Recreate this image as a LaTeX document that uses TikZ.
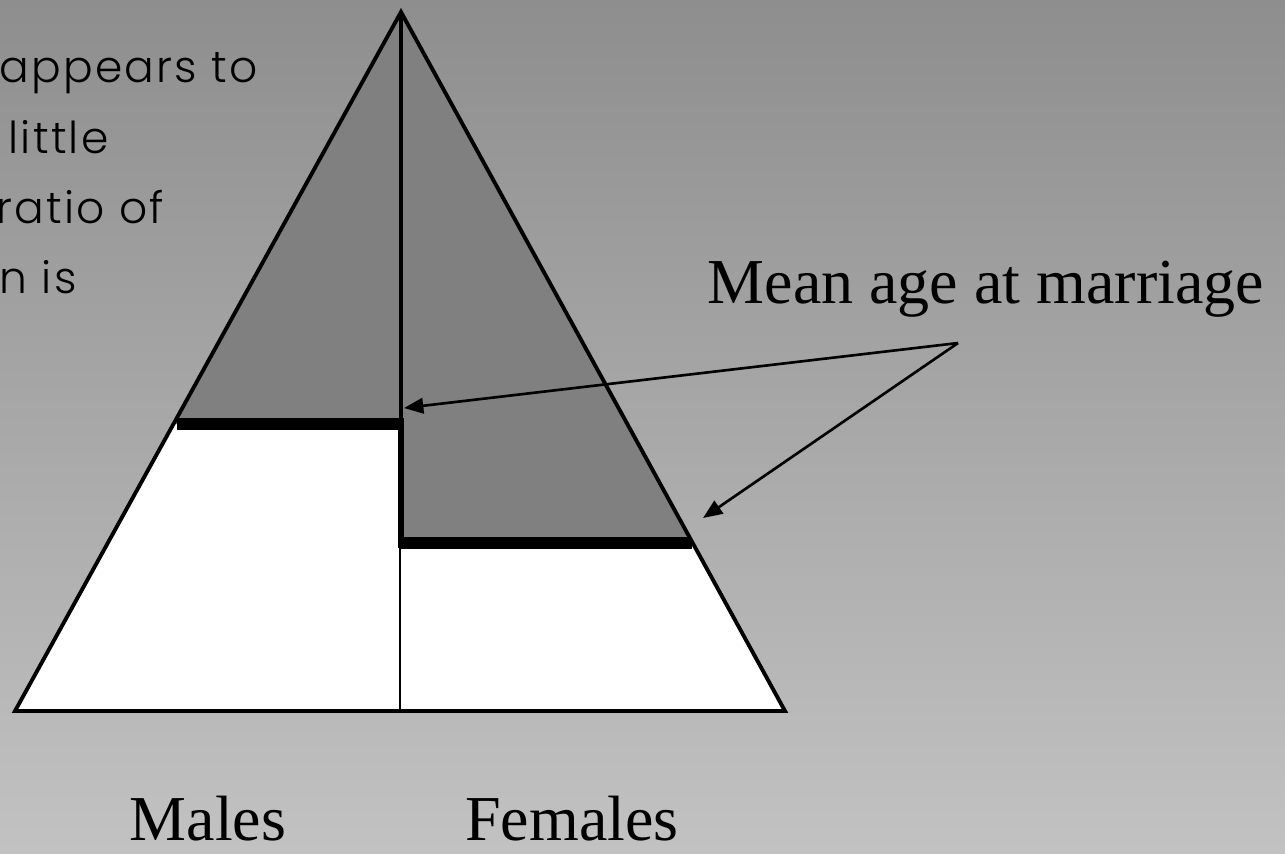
\documentclass[tikz,border=0pt]{standalone}
\usepackage{fontspec}
\setmainfont{Liberation Serif}
\newfontfamily\handfont{Poppins Light}[LetterSpace=5]
\usetikzlibrary{positioning, arrows.meta}
\definecolor{bgtop}{HTML}{8E8E8E}
\definecolor{bgbottom}{HTML}{C2C2C2}
\definecolor{agefill}{HTML}{808080}

\begin{document}
\begin{tikzpicture}[
    x=0.01cm, y=-0.01cm,
    label/.style={font=\fontsize{18.2}{22}\selectfont, inner sep=0pt, anchor=base},
    note/.style={font=\handfont\fontsize{12.5}{15}\selectfont, inner sep=0pt, anchor=base west},
    outline/.style={draw=black, line width=1.1pt, line join=miter},
    marriage/.style={line width=3.3pt, line cap=butt},
    pointer/.style={-{Triangle[length=5.5pt, width=4.4pt]}, line width=0.75pt}
  ]
    \useasboundingbox (0,0) rectangle (1285,853);
    \shade[top color=bgtop, bottom color=bgbottom] (0,0) rectangle (1285,853);

    % pyramid corners
    \coordinate (apex) at (401,12);
    \coordinate (bl) at (15,711);
    \coordinate (br) at (785,711);
    \coordinate (mid) at (400,711);

    % single (grey) and married (white) parts
    \fill[white] (apex) -- (bl) -- (br) -- cycle;
    \fill[agefill] (apex) -- (173.5,424) -- (401,424) -- cycle;
    \fill[agefill] (apex) -- (692.7,543) -- (401,543) -- cycle;
    \draw[outline] (apex) -- (bl) -- (br) -- cycle;
    \draw[line width=1.4pt] (apex) -- (401,424);
    \draw[line width=0.65pt] (400,543) -- (mid);

    % mean age at marriage
    \draw[marriage] (177,424) -- (404,424);
    \draw[marriage, line width=1.7pt] (401,418) -- (401,548);
    \draw[marriage] (401,543) -- (692,543);

    \node[label, anchor=base west] (meanlbl) at (707,303) {Mean age at marriage};
    \coordinate (tail) at (958,343);
    \coordinate (tipmale) at (404,408);
    \coordinate (tipfemale) at (703,518);
    \draw[pointer] (tail) -- (tipmale);
    \draw[pointer] (tail) -- (tipfemale);

    \node[label] (malelbl) at (208,840) {Males};
    \node[label, right=364 of malelbl.base, anchor=base] (femalelbl) {Females};

    % note, cut at the left edge
    \node[note] (note1) at (-1,82) {appears to};
    \node[note] (note2) at (8,153) {little};
    \node[note] (note3) at (-4,223) {ratio of};
    \node[note] (note4) at (-1,293) {n is};
  \end{tikzpicture}
\end{document}
